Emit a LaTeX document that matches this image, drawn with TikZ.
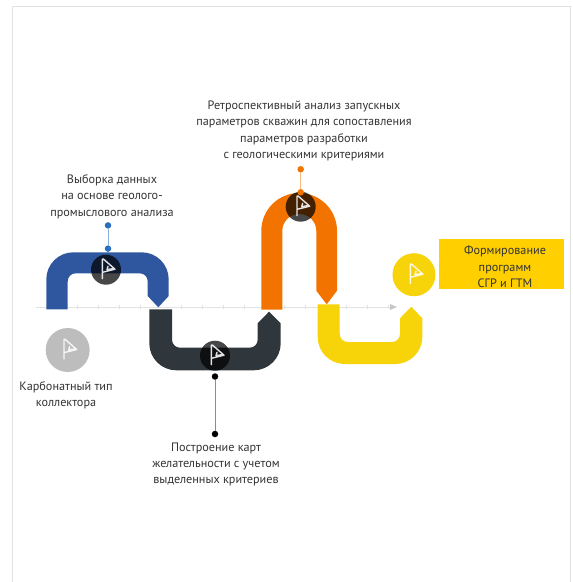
\documentclass[tikz,border=0pt]{standalone}
\usepackage{fontspec}
\setmainfont{PT Sans}
\usetikzlibrary{arrows.meta}
\definecolor{cblue}{HTML}{2F57A0}
\definecolor{cdot}{HTML}{2A70BE}
\definecolor{cdark}{HTML}{2F373C}
\definecolor{corange}{HTML}{F27300}
\definecolor{cyel}{HTML}{F7D30A}
\definecolor{cbox}{HTML}{FFCF00}
\definecolor{caxis}{HTML}{E2E2E2}
\definecolor{ctext}{HTML}{333333}
\tikzset{
  lbl/.style={align=center,text=ctext,font=\fontsize{12.2}{16.4}\selectfont,inner sep=0pt},
  flagdisc/.style={circle,fill=black,fill opacity=.72,minimum size=30pt,inner sep=0pt},
  bigdisc/.style={circle,minimum size=#1,inner sep=0pt},
  dot/.style={circle,minimum size=6.5pt,inner sep=0pt},
  tick/.style={draw=caxis,line width=.5pt},
  flagpic/.pic={
    \draw[white,line width=1.4pt,line cap=round,line join=round,opacity=.88]
      (-3.7,9) -- (-3.7,-10.5) -- (-2.6,-10.7) -- (9,-.5) -- (-3.2,2.5)
      (2,-3.4) -- (1,-.2) -- (6.5,-.9);
  }
}
\begin{document}
\begin{tikzpicture}[x=1pt,y=-1pt]
\useasboundingbox (0,0) rectangle (573,582);
% frame
\draw[caxis,line width=1.3pt] (12.8,582) -- (12.8,6.3) -- (570.5,6.3) -- (570.5,582);
% axis
\coordinate (axstart) at (36,307);
\draw[caxis,line width=.8pt] (axstart) -- (390,307);
\fill[lightgray!90] (390,304) -- (397,307) -- (390,310) -- cycle;
\foreach \x in {77,98,119,140,181,202,223,244,284,305,346,367,388}
  \draw[tick] (\x,305) -- (\x,309);
% ribbons
\fill[cblue] (46.3,309.3) [rounded corners=27pt] -- (46.3,252.3) -- (168.7,252.3) [sharp corners] -- (168.7,296) -- (158.3,307.3) -- (147.7,296) [rounded corners=8pt] -- (147.7,273.3) -- (67.7,273.3) [sharp corners] -- (67.7,309.3) -- cycle;
\fill[cdark] (149.3,309.3) [rounded corners=27pt] -- (149.3,370.3) -- (280.7,370.3) [sharp corners] -- (280.7,323.3) -- (269,311.7) -- (257.7,323.3) [rounded corners=8pt] -- (257.7,347.7) -- (172,347.7) [sharp corners] -- (172,309.3) -- cycle;
\fill[corange] (261.3,309.7) [rounded corners=37.8pt] -- (261.3,193) -- (337,193) [sharp corners] -- (337,290.7) -- (326.7,304.3) -- (316.3,290.7) [rounded corners=16.9pt] -- (316.3,214) -- (282.3,214) [sharp corners] -- (282.3,309.7) -- cycle;
\fill[cyel] (317.7,304.3) [rounded corners=27pt] -- (317.7,364) -- (422.3,364) [sharp corners] -- (422.3,318.3) -- (411.3,306.7) -- (400,318.3) [rounded corners=8pt] -- (400,342) -- (339.7,342) [sharp corners] -- (339.7,304.3) -- cycle;
% discs
\node[flagdisc] (f1) at (106,269.7) {};
\node[flagdisc] (f2) at (215,355.7) {};
\node[flagdisc] (f3) at (300.7,206.7) {};
\node[bigdisc=44pt,fill=black!26] (f0) at (67.7,350) {};
\node[bigdisc=43pt,fill=cyel] (f4) at (414,274.7) {};
\foreach \n in {f0,f1,f2,f3,f4} \pic at (\n) {flagpic};
% connectors
\node[dot,fill=cdot] (b1) at (108,225.4) {};
\node[dot,fill=cdot] (b2) at (108,248.6) {};
\draw[cdot!55,line width=1pt] (b1) -- (b2);
\node[dot,fill=corange] (o1) at (300.7,169.3) {};
\node[dot,fill=corange] (o2) at (300.7,192.3) {};
\draw[corange!50,line width=1pt] (o1) -- (o2);
\node[dot,fill=black] (k1) at (215,376.5) {};
\node[dot,fill=black] (k2) at (215,434) {};
\draw[black!45,line width=1pt] (k1) -- (k2);
% box
\node[fill=cbox,minimum width=124.7pt,minimum height=49.4pt,inner sep=0pt] (box) at (501.7,264) {};
% labels
\node[lbl] (t0) at (66,395) {Карбонатный тип\\коллектора};
\node[lbl] (t1) at (112,196.5) {Выборка данных\\на основе геолого-\\промыслового анализа};
\node[lbl] (t2) at (216,464.5) {Построение карт\\желательности с учетом\\выделенных критериев};
\node[lbl] (t3) at (304,130.7) {Ретроспективный анализ запускных\\параметров скважин для сопоставления\\параметров разработки\\с геологическими критериями};
\node[lbl] (t4) at (505,267) {Формирование\\программ\\СГР и ГТМ};
\end{tikzpicture}
\end{document}
